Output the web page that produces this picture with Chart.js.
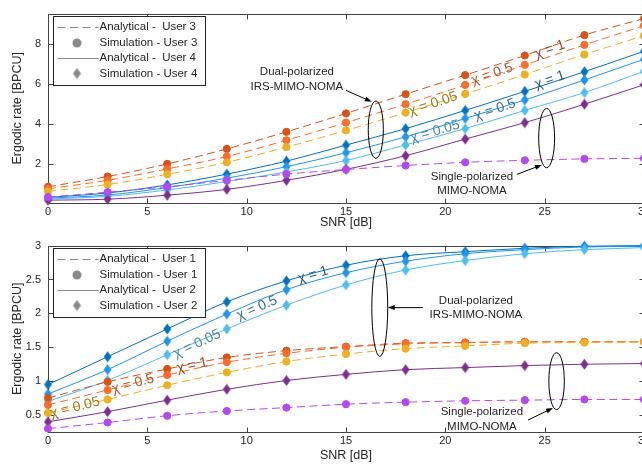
<!DOCTYPE html>
<html>
<head>
<meta charset="utf-8">
<script src="https://cdn.jsdelivr.net/npm/chart.js@4.4.0/dist/chart.umd.min.js"></script>
<style>
html, body { margin: 0; padding: 0; background: #fff; overflow: hidden; width: 642px; height: 465px; }
canvas { display: block; }
</style>
</head>
<body>
<canvas id="topChart" width="660" height="232"></canvas>
<canvas id="bottomChart" width="660" height="233"></canvas>
<script>
// SNR points (dB)
const snr = [0, 3, 6, 9, 12, 15, 18, 21, 24, 27, 30];
const xTicks = [0, 5, 10, 15, 20, 25, 30];
const topYTicks = [2, 4, 6, 8];
const bottomYTicks = [0.5, 1, 1.5, 2, 2.5, 3];

// top panel: users 3 and 4
const u3Chi1   = [0.86, 1.37, 2.00, 2.75, 3.60, 4.52, 5.48, 6.43, 7.41, 8.43, 9.25];
const u3Chi05  = [0.76, 1.18, 1.75, 2.37, 3.18, 4.06, 4.98, 5.94, 6.94, 7.94, 8.90];
const u3Chi005 = [0.63, 0.97, 1.48, 2.08, 2.84, 3.67, 4.56, 5.49, 6.46, 7.46, 8.40];
const u3Single = [0.35, 0.59, 0.86, 1.18, 1.49, 1.72, 1.92, 2.08, 2.18, 2.25, 2.28];
const u4Chi1   = [0.33, 0.55, 0.95, 1.49, 2.14, 2.94, 3.76, 4.67, 5.62, 6.60, 7.62];
const u4Chi05  = [0.29, 0.45, 0.82, 1.29, 1.86, 2.56, 3.35, 4.27, 5.19, 6.19, 7.22];
const u4Chi005 = [0.25, 0.38, 0.70, 1.12, 1.60, 2.17, 2.95, 3.76, 4.67, 5.56, 6.62];
const u4Single = [0.19, 0.24, 0.44, 0.73, 1.18, 1.73, 2.41, 3.24, 4.06, 4.98, 5.95];

// bottom panel: users 1 and 2
const u1Chi1   = [0.75, 0.99, 1.18, 1.35, 1.45, 1.51, 1.56, 1.57, 1.58, 1.58, 1.58];
const u1Chi05  = [0.65, 0.87, 1.09, 1.28, 1.41, 1.50, 1.55, 1.57, 1.58, 1.58, 1.58];
const u1Chi005 = [0.53, 0.73, 0.94, 1.13, 1.29, 1.40, 1.48, 1.52, 1.56, 1.57, 1.58];
const u1Single = [0.30, 0.39, 0.49, 0.56, 0.61, 0.66, 0.69, 0.71, 0.72, 0.73, 0.73];
const u2Chi1   = [0.95, 1.36, 1.77, 2.17, 2.48, 2.71, 2.85, 2.91, 2.96, 2.99, 3.00];
const u2Chi05  = [0.81, 1.17, 1.59, 1.99, 2.35, 2.60, 2.77, 2.88, 2.94, 2.98, 2.99];
const u2Chi005 = [0.70, 1.01, 1.39, 1.77, 2.12, 2.42, 2.64, 2.78, 2.88, 2.94, 2.97];
const u2Single = [0.40, 0.55, 0.72, 0.88, 1.01, 1.10, 1.17, 1.20, 1.23, 1.25, 1.26];

const colors = {
  red: '#D95319', orange: '#FF6B2B', yellow: '#EDB120', violet: '#B448F2',
  blue: '#0072BD', mid: '#1E96F0', light: '#4DBEEE', purple: '#7E2F8E'
};
const FONT = '"Liberation Sans", Arial, sans-serif';
const textColor = '#262626';
const axisColor = '#444';

function diamond(color) {
  const c = document.createElement('canvas');
  c.width = 9; c.height = 12;
  const g = c.getContext('2d');
  g.fillStyle = color;
  g.beginPath();
  g.moveTo(4.5, 0.5); g.lineTo(8.5, 6); g.lineTo(4.5, 11.5); g.lineTo(0.5, 6);
  g.closePath(); g.fill();
  return c;
}

function curve(values, color, dashed, marker) {
  return {
    data: snr.map((x, i) => ({ x: x, y: values[i] })),
    borderColor: color,
    backgroundColor: color,
    borderWidth: 1,
    borderDash: dashed ? [8, 4.5] : [],
    pointStyle: marker === 'diamond' ? diamond(color) : 'circle',
    pointRadius: marker === 'diamond' ? 5 : 3.6,
    pointBorderWidth: 1,
    pointBorderColor: color,
    pointBackgroundColor: color,
    cubicInterpolationMode: 'monotone',
    clip: false
  };
}

function line(ctx, x1, y1, x2, y2) {
  ctx.beginPath(); ctx.moveTo(x1, y1); ctx.lineTo(x2, y2); ctx.stroke();
}

const decoPlugin = {
  id: 'deco',
  beforeDatasetsDraw(chart) {
    const ctx = chart.ctx, a = chart.chartArea;
    const xs = chart.scales.x, ys = chart.scales.y;
    ctx.save();
    ctx.strokeStyle = axisColor;
    ctx.lineWidth = 1;
    const L = Math.round(a.left) + 0.5, R = Math.round(a.right) + 0.5;
    const T = Math.round(a.top) + 0.5, B = Math.round(a.bottom) + 0.5;
    ctx.strokeRect(L, T, R - L, B - T);
    xs.ticks.forEach(t => {
      const px = Math.round(xs.getPixelForValue(t.value)) + 0.5;
      line(ctx, px, B, px, B - 5);
      line(ctx, px, T, px, T + 5);
    });
    ys.ticks.forEach(t => {
      const py = Math.round(ys.getPixelForValue(t.value)) + 0.5;
      line(ctx, L, py, L + 5, py);
      line(ctx, R, py, R - 5, py);
    });
    ctx.restore();
  },
  afterDatasetsDraw(chart, args, opts) {
    const ctx = chart.ctx, a = chart.chartArea;
    const xs = chart.scales.x, ys = chart.scales.y;
    const X = v => xs.getPixelForValue(v), Y = v => ys.getPixelForValue(v);
    ctx.save();
    ctx.strokeStyle = '#000';
    ctx.fillStyle = '#000';
    ctx.lineWidth = 1;
    (opts.ellipses || []).forEach(e => {
      ctx.beginPath();
      ctx.ellipse(X(e.x), Y(e.y), Math.abs(X(e.x + e.rx) - X(e.x)), Math.abs(Y(e.y + e.ry) - Y(e.y)), 0, 0, Math.PI * 2);
      ctx.stroke();
    });
    (opts.arrows || []).forEach(r => {
      const x1 = X(r.from[0]), y1 = Y(r.from[1]), x2 = X(r.to[0]), y2 = Y(r.to[1]);
      const ang = Math.atan2(y2 - y1, x2 - x1);
      line(ctx, x1, y1, x2 - 5 * Math.cos(ang), y2 - 5 * Math.sin(ang));
      ctx.beginPath();
      ctx.moveTo(x2, y2);
      ctx.lineTo(x2 - 7 * Math.cos(ang) + 2.5 * Math.sin(ang), y2 - 7 * Math.sin(ang) - 2.5 * Math.cos(ang));
      ctx.lineTo(x2 - 7 * Math.cos(ang) - 2.5 * Math.sin(ang), y2 - 7 * Math.sin(ang) + 2.5 * Math.cos(ang));
      ctx.closePath(); ctx.fill();
    });
    ctx.fillStyle = textColor;
    ctx.font = '11.5px ' + FONT;
    ctx.textAlign = 'center';
    ctx.textBaseline = 'middle';
    (opts.notes || []).forEach(n => {
      n.lines.forEach((s, i) => ctx.fillText(s, X(n.x), Y(n.y) + i * 14.5));
    });
    ctx.font = '14px ' + FONT;
    (opts.chi || []).forEach(c => {
      ctx.save();
      ctx.translate(X(c.x), Y(c.y));
      ctx.rotate(-c.angle * Math.PI / 180);
      ctx.fillStyle = c.color;
      ctx.fillText(c.text, 0, 0);
      ctx.restore();
    });
    // legend box
    const lg = opts.legend;
    if (lg) {
      const bx = Math.round(a.left) + 5.5, by = Math.round(a.top) + 2.5, bw = 152, bh = 69;
      ctx.fillStyle = '#fff';
      ctx.fillRect(bx, by, bw, bh);
      ctx.strokeStyle = '#222';
      ctx.strokeRect(bx, by, bw, bh);
      const rows = [10.5, 26.5, 41.8, 57];
      const gray = '#8a8a8a';
      ctx.font = '11.5px ' + FONT;
      ctx.textAlign = 'left';
      lg.forEach((item, i) => {
        const ry = by + rows[i];
        ctx.strokeStyle = gray; ctx.fillStyle = gray;
        if (item.kind === 'dash' || item.kind === 'solid') {
          ctx.setLineDash(item.kind === 'dash' ? [8, 4.5] : []);
          line(ctx, bx + 4, Math.round(ry) + 0.5, bx + 45, Math.round(ry) + 0.5);
          ctx.setLineDash([]);
        } else if (item.kind === 'circle') {
          ctx.beginPath(); ctx.arc(bx + 23.5, ry, 4.5, 0, Math.PI * 2); ctx.fill();
        } else {
          ctx.drawImage(diamond(gray), bx + 19, ry - 6);
        }
        ctx.fillStyle = textColor;
        ctx.fillText(item.text, bx + 46, ry);
      });
    }
    ctx.restore();
  }
};

function makeOptions(yMin, yMax, yTicks, padTop, xHeight, deco) {
  return {
    responsive: false,
    devicePixelRatio: 1,
    animation: false,
    events: [],
    layout: { padding: { left: 0, right: 16, top: padTop, bottom: 0 } },
    plugins: { legend: { display: false }, tooltip: { enabled: false }, deco: deco },
    scales: {
      x: {
        type: 'linear', min: 0, max: 30,
        afterBuildTicks: s => { s.ticks = xTicks.map(v => ({ value: v })); },
        afterFit: s => { s.height = xHeight; },
        grid: { display: false, drawTicks: false },
        border: { display: false },
        ticks: { padding: 2, color: textColor, font: { family: FONT, size: 11 }, maxRotation: 0, callback: v => String(v) },
        title: { display: true, text: 'SNR [dB]', color: textColor, font: { family: FONT, size: 12.5 }, padding: { top: 0, bottom: 2 } }
      },
      y: {
        type: 'linear', min: yMin, max: yMax,
        afterBuildTicks: s => { s.ticks = yTicks.map(v => ({ value: v })); },
        afterFit: s => { s.width = 48; },
        grid: { display: false, drawTicks: false },
        border: { display: false },
        ticks: { padding: 7, color: textColor, font: { family: FONT, size: 11 }, callback: v => String(v) },
        title: { display: true, text: 'Ergodic rate [BPCU]', color: textColor, font: { family: FONT, size: 12.5 }, padding: { top: 10, bottom: 0 } }
      }
    }
  };
}

new Chart(document.getElementById('topChart'), {
  type: 'line',
  data: {
    datasets: [
      curve(u3Single, colors.violet, true, 'circle'),
      curve(u3Chi005, colors.yellow, true, 'circle'),
      curve(u3Chi05, colors.orange, true, 'circle'),
      curve(u3Chi1, colors.red, true, 'circle'),
      curve(u4Single, colors.purple, false, 'diamond'),
      curve(u4Chi005, colors.light, false, 'diamond'),
      curve(u4Chi05, colors.mid, false, 'diamond'),
      curve(u4Chi1, colors.blue, false, 'diamond')
    ]
  },
  options: makeOptions(0.05, 9.5, topYTicks, 5, 29, {
    legend: [
      { kind: 'dash', text: 'Analytical -  User 3' },
      { kind: 'circle', text: 'Simulation - User 3' },
      { kind: 'solid', text: 'Analytical -  User 4' },
      { kind: 'diamond', text: 'Simulation - User 4' }
    ],
    ellipses: [{ x: 16.5, y: 3.71, rx: 0.38, ry: 1.43 }, { x: 25.1, y: 3.29, rx: 0.4, ry: 1.48 }],
    arrows: [{ from: [15.0, 5.67], to: [16.3, 5.1] }, { from: [23.6, 1.48], to: [24.86, 1.95] }],
    notes: [
      { x: 12.53, y: 6.57, lines: ['Dual-polarized', 'IRS-MIMO-NOMA'] },
      { x: 21.34, y: 1.38, lines: ['Single-polarized', 'MIMO-NOMA'] }
    ],
    chi: [
      { x: 25.26, y: 7.71, angle: 19, text: 'χ = 1', color: '#9A4526' },
      { x: 22.35, y: 6.48, angle: 19, text: 'χ = 0.5', color: '#B3562C' },
      { x: 19.38, y: 5.0, angle: 18, text: 'χ = 0.05', color: '#9C7B1C' },
      { x: 25.26, y: 6.19, angle: 19, text: 'χ = 1', color: '#2C5A86' },
      { x: 22.5, y: 4.71, angle: 18, text: 'χ = 0.5', color: '#3A6C98' },
      { x: 19.48, y: 3.62, angle: 16, text: 'χ = 0.05', color: '#4A86A8' }
    ]
  }),
  plugins: [decoPlugin]
});

new Chart(document.getElementById('bottomChart'), {
  type: 'line',
  data: {
    datasets: [
      curve(u1Single, colors.violet, true, 'circle'),
      curve(u1Chi005, colors.yellow, true, 'circle'),
      curve(u1Chi05, colors.orange, true, 'circle'),
      curve(u1Chi1, colors.red, true, 'circle'),
      curve(u2Single, colors.purple, false, 'diamond'),
      curve(u2Chi005, colors.light, false, 'diamond'),
      curve(u2Chi05, colors.mid, false, 'diamond'),
      curve(u2Chi1, colors.blue, false, 'diamond')
    ]
  },
  options: makeOptions(0.25, 3, bottomYTicks, 4, 33, {
    legend: [
      { kind: 'dash', text: 'Analytical -  User 1' },
      { kind: 'circle', text: 'Simulation - User 1' },
      { kind: 'solid', text: 'Analytical -  User 2' },
      { kind: 'diamond', text: 'Simulation - User 2' }
    ],
    ellipses: [{ x: 16.7, y: 2.085, rx: 0.4, ry: 0.72 }, { x: 25.6, y: 1.0, rx: 0.39, ry: 0.42 }],
    arrows: [{ from: [18.87, 2.085], to: [17.1, 2.085] }, { from: [24.16, 0.426], to: [25.42, 0.604] }],
    notes: [
      { x: 21.54, y: 2.19, lines: ['Dual-polarized', 'IRS-MIMO-NOMA'] },
      { x: 21.84, y: 0.542, lines: ['Single-polarized', 'MIMO-NOMA'] }
    ],
    chi: [
      { x: 13.34, y: 2.57, angle: 16, text: 'χ = 1', color: '#2C5A86' },
      { x: 10.52, y: 2.08, angle: 23, text: 'χ = 0.5', color: '#3A6C98' },
      { x: 7.5, y: 1.55, angle: 25, text: 'χ = 0.05', color: '#4A86A8' },
      { x: 7.25, y: 1.23, angle: 12, text: 'χ = 1', color: '#9A4526' },
      { x: 4.28, y: 0.96, angle: 15, text: 'χ = 0.5', color: '#B3562C' },
      { x: 1.36, y: 0.61, angle: 14, text: 'χ = 0.05', color: '#9C7B1C' }
    ]
  }),
  plugins: [decoPlugin]
});
</script>
</body>
</html>
